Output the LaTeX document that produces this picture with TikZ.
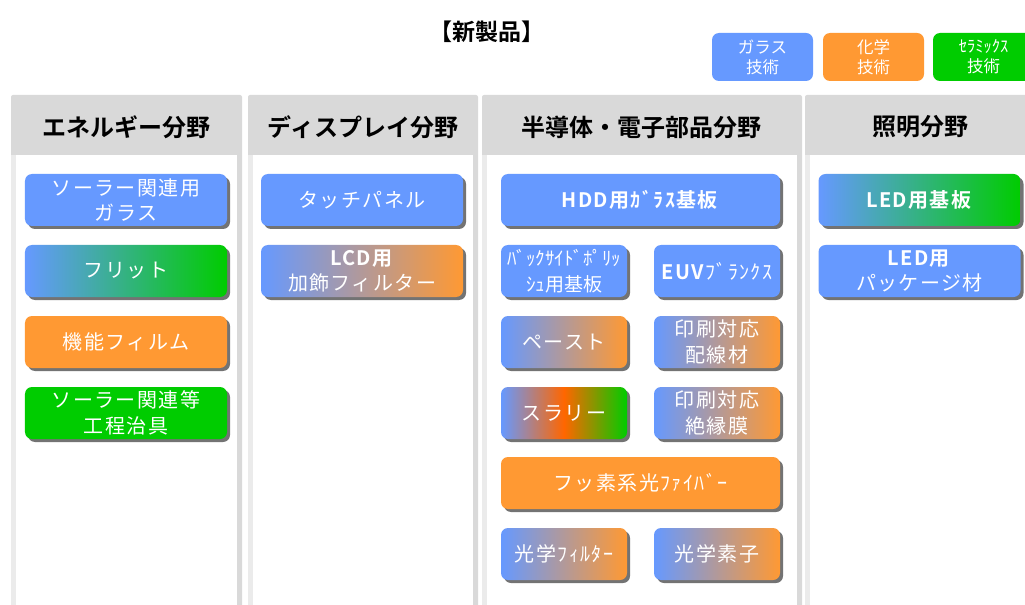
\documentclass[tikz,border=0pt]{standalone}
\usepackage{fontspec}
\setmainfont{Noto Sans CJK JP}[BoldFont={Noto Sans CJK JP Bold}]
\usetikzlibrary{shadows}
\definecolor{cblue}{HTML}{6699FF}
\definecolor{corange}{HTML}{FF9933}
\definecolor{cgreen}{HTML}{00CC00}
\definecolor{cred}{HTML}{FF6600}
\definecolor{hdrgray}{HTML}{D9D9D9}
\definecolor{lgray}{HTML}{EBEBEB}
\tikzset{
  prod/.style={rounded corners=7bp, text=white, align=center, inner sep=0pt,
    font=\fontsize{20bp}{25.5bp}\selectfont\addfontfeature{LetterSpace=7},
    drop shadow={shadow xshift=3bp, shadow yshift=-3bp, opacity=0.55, fill=black}},
  wbox/.style={minimum width=202bp, minimum height=52bp},
  fbox/.style={minimum width=279bp, minimum height=52bp},
  hbox/.style={minimum width=126bp, minimum height=52bp},
  legend/.style={rounded corners=7bp, text=white, align=center, inner sep=0pt,
    minimum width=101bp, minimum height=48bp,
    font=\fontsize{16.5bp}{20bp}\selectfont},
  header/.style={text=black, font=\bfseries\fontsize{24bp}{28bp}\selectfont, inner sep=0pt},
  bg/.style={shade, left color=cblue, right color=cgreen},
  bo/.style={shade, left color=cblue, right color=corange},
}
\begin{document}
\begin{tikzpicture}[x=1bp,y=-1bp]
\useasboundingbox (0,0) rectangle (1025,605);
\fill[white] (0,0) rectangle (1025,605);

% columns
\foreach \l/\r in {11/242, 248/478, 482/802, 805/1040}{
  \fill[hdrgray, rounded corners=2bp] (\l,95) rectangle (\r,610);
  \fill[lgray] (\l,155) rectangle (\l+5,610);
  \fill[white] (\l+5,155) rectangle (\r-5,610);
}

% title
\node[font=\bfseries\fontsize{23bp}{26bp}\selectfont, inner sep=0pt] (title) at (487,32) {【新製品】};

% legend
\node[legend, fill=cblue] (lgglass) at (762.5,57) {ガラス\\技術};
\node[legend, fill=corange] (lgchem) at (873.5,57) {化学\\技術};
\node[legend, fill=cgreen] (lgcer) at (983.5,57) {ｾﾗﾐｯｸｽ\\技術};

% headers
\node[header] (h1) at (126.5,127) {エネルギー分野};
\node[header] (h2) at (363,127) {ディスプレイ分野};
\node[header] (h3) at (641.5,127) {半導体・電子部品分野};
\node[header] (h4) at (920,127) {照明分野};

% column 1
\node[prod, wbox, fill=cblue] (solarglass) at (126,200) {ソーラー関連用\\ガラス};
\node[prod, wbox, bg] (frit) at (126,271) {フリット};
\node[prod, wbox, fill=corange] (film) at (126,342) {機能フィルム};
\node[prod, wbox, fill=cgreen] (jig) at (126,413) {ソーラー関連等\\工程治具};

% column 2
\node[prod, wbox, fill=cblue] (touch) at (362,200) {タッチパネル};
\node[prod, wbox, bo] (lcd) at (362,271) {\textbf{LCD用}\\加飾フィルター};

% column 3
\node[prod, fbox, fill=cblue] (hdd) at (640.5,200) {\textbf{HDD用ｶﾞﾗｽ基板}};
\node[prod, hbox, fill=cblue, font=\fontsize{19bp}{25.5bp}\selectfont] (backside) at (564,271) {ﾊﾞｯｸｻｲﾄﾞﾎﾟﾘｯ\\ｼｭ用基板};
\node[prod, hbox, fill=cblue] (euv) at (717,271) {\textbf{EUV}ﾌﾞﾗﾝｸｽ};
\node[prod, hbox, bo] (paste) at (564,342) {ペースト};
\node[prod, hbox, bo] (wiring) at (717,342) {印刷対応\\配線材};
\node[prod, hbox, shade, left color=cblue, right color=cgreen, middle color=cred] (slurry) at (564,413) {スラリー};
\node[prod, hbox, bo] (insul) at (717,413) {印刷対応\\絶縁膜};
\node[prod, fbox, fill=corange] (fiber) at (640.5,483) {フッ素系光ﾌｧｲﾊﾞｰ};
\node[prod, hbox, bo] (ofilter) at (564,554) {光学ﾌｨﾙﾀｰ};
\node[prod, hbox, bo] (oelem) at (717,554) {光学素子};

% column 4
\node[prod, wbox, bg] (ledsub) at (919.5,200) {\textbf{LED用基板}};
\node[prod, wbox, fill=cblue] (ledpkg) at (919.5,271) {\textbf{LED用}\\パッケージ材};
\end{tikzpicture}
\end{document}
